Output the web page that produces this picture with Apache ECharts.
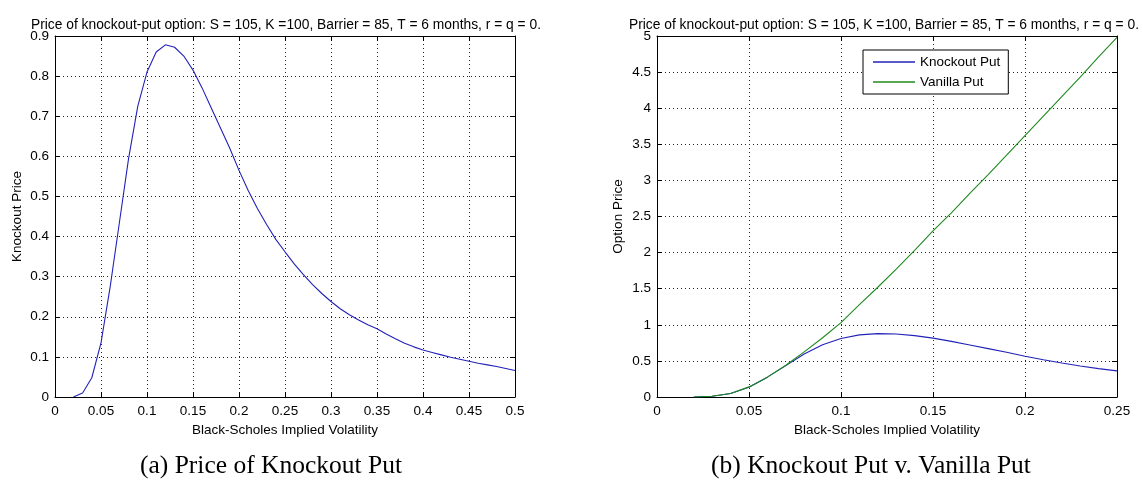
<!DOCTYPE html>
<html>
<head>
<meta charset="utf-8">
<title>Knockout put</title>
<script src="https://cdn.jsdelivr.net/npm/echarts@6/dist/echarts.min.js"></script>
<style>
  html, body { margin: 0; padding: 0; background: #fff; }
  #chart { width: 1143px; height: 481px; }
</style>
</head>
<body>
<div id="chart"></div>
<script>
// 隐含波动率 (左图 0.02 ~ 0.50)
var volLeft = [0.02,0.03,0.04,0.05,0.06,0.07,0.08,0.09,0.10,0.11,0.12,0.13,0.14,0.15,0.16,0.17,0.18,0.19,0.20,0.21,
    0.22,0.23,0.24,0.25,0.26,0.27,0.28,0.29,0.30,0.31,0.32,0.33,0.34,0.35,0.36,0.37,0.38,0.39,0.40,0.41,
    0.42,0.43,0.44,0.45,0.46,0.47,0.48,0.49,0.50];
// 敲出看跌期权价格
var knockoutPrice = [0.000,0.010,0.048,0.135,0.275,0.435,0.595,0.725,0.810,0.860,0.878,0.872,0.850,0.815,0.770,0.720,0.670,0.620,0.565,0.515,
    0.470,0.430,0.393,0.362,0.332,0.305,0.280,0.258,0.238,0.220,0.205,0.192,0.180,0.170,0.157,0.145,0.134,0.125,0.117,0.111,
    0.105,0.099,0.094,0.089,0.084,0.080,0.076,0.071,0.066];
// 右图 0.02 ~ 0.25
var volRight = [0.02,0.03,0.04,0.05,0.06,0.07,0.08,0.09,0.10,0.11,0.12,0.13,0.14,0.15,0.16,0.17,0.18,0.19,0.20,0.21,
    0.22,0.23,0.24,0.25];
var vanillaPrice = [0.000,0.010,0.048,0.140,0.275,0.440,0.625,0.820,1.030,1.280,1.520,1.770,2.030,2.300,2.550,2.820,3.080,3.350,3.620,3.890,
    4.160,4.430,4.710,4.980];

var xTicksLeft = { min: 0, max: 0.5, interval: 0.05 };
var yTicksLeft = { min: 0, max: 0.9, interval: 0.1 };
var xTicksRight = { min: 0, max: 0.25, interval: 0.05 };
var yTicksRight = { min: 0, max: 5, interval: 0.5 };

var titleText = 'Price of knockout-put option: S = 105, K =100, Barrier = 85, T = 6 months, r = q = 0.';

function pairs(xs, ys) {
    var out = [];
    for (var i = 0; i < xs.length; i++) {
        out.push([xs[i], ys[i]]);
    }
    return out;
}

var FONT = 'Liberation Sans, Arial, sans-serif';
var labelStyle = { color: '#000', fontSize: 13.5, fontFamily: FONT };

// 主坐标轴 (带标签和网格)
function mainAxis(grid, ticks, pos, name, nameGap, margin) {
    return {
        type: 'value', gridIndex: grid, position: pos,
        min: ticks.min, max: ticks.max, interval: ticks.interval,
        name: name, nameLocation: 'middle', nameGap: nameGap,
        nameTextStyle: labelStyle,
        axisLine: { show: true, lineStyle: { color: '#000', width: 1 } },
        axisTick: { show: true, inside: true, length: 5, lineStyle: { color: '#000' } },
        axisLabel: { show: true, margin: margin, color: '#000', fontSize: 13.5, fontFamily: FONT },
        splitLine: { show: true, lineStyle: { color: '#222', type: [1, 3], width: 1 } }
    };
}
// 对面的框线 (只画刻度)
function boxAxis(grid, ticks, pos) {
    return {
        type: 'value', gridIndex: grid, position: pos,
        min: ticks.min, max: ticks.max, interval: ticks.interval,
        axisLine: { show: true, onZero: false, lineStyle: { color: '#000', width: 1 } },
        axisTick: { show: true, inside: true, length: 5, lineStyle: { color: '#000' } },
        axisLabel: { show: false },
        splitLine: { show: false }
    };
}

var myChart = echarts.init(document.getElementById('chart'));

var option = {
    animation: false,
    backgroundColor: '#fff',
    title: [
        { text: titleText, left: 281, top: 13, textAlign: 'center',
          textStyle: { color: '#000', fontSize: 13.8, fontWeight: 'normal', fontFamily: FONT } },
        { text: titleText, left: 879, top: 13, textAlign: 'center',
          textStyle: { color: '#000', fontSize: 13.8, fontWeight: 'normal', fontFamily: FONT } }
    ],
    grid: [
        { left: 55, top: 36, width: 460, height: 361, containLabel: false },
        { left: 657, top: 36, width: 460, height: 361, containLabel: false }
    ],
    legend: {
        data: ['Knockout Put', 'Vanilla Put'],
        orient: 'vertical',
        left: 863, top: 50,
        padding: [5, 8, 5, 10],
        itemGap: 6,
        itemWidth: 42, itemHeight: 1.5,
        icon: 'rect',
        borderColor: '#000', borderWidth: 1, borderRadius: 0,
        backgroundColor: '#fff',
        textStyle: { color: '#000', fontSize: 13.5, fontFamily: FONT, lineHeight: 14 }
    },
    xAxis: [
        mainAxis(0, xTicksLeft, 'bottom', 'Black-Scholes Implied Volatility', 21, 7),
        boxAxis(0, xTicksLeft, 'top'),
        mainAxis(1, xTicksRight, 'bottom', 'Black-Scholes Implied Volatility', 21, 7),
        boxAxis(1, xTicksRight, 'top')
    ],
    yAxis: [
        mainAxis(0, yTicksLeft, 'left', 'Knockout Price', 31, 6),
        boxAxis(0, yTicksLeft, 'right'),
        mainAxis(1, yTicksRight, 'left', 'Option Price', 32, 6),
        boxAxis(1, yTicksRight, 'right')
    ],
    series: [
        {
            name: 'Knockout Price', type: 'line', xAxisIndex: 0, yAxisIndex: 0,
            data: pairs(volLeft, knockoutPrice),
            showSymbol: false, symbol: 'none',
            color: '#2222b8',
            lineStyle: { width: 1.1, color: '#2222b8' }
        },
        {
            name: 'Knockout Put', type: 'line', xAxisIndex: 2, yAxisIndex: 2,
            data: pairs(volRight, knockoutPrice.slice(0, volRight.length)),
            showSymbol: false, symbol: 'none',
            color: '#2222b8',
            lineStyle: { width: 1.1, color: '#2222b8' }
        },
        {
            name: 'Vanilla Put', type: 'line', xAxisIndex: 2, yAxisIndex: 2,
            data: pairs(volRight, vanillaPrice),
            showSymbol: false, symbol: 'none',
            color: '#1f8a1f',
            lineStyle: { width: 1.1, color: '#1f8a1f' }
        }
    ],
    // 子图说明
    graphic: [
        { type: 'text', x: 271, y: 466,
          style: { text: '(a) Price of Knockout Put', textAlign: 'center', textVerticalAlign: 'middle',
                   font: '25.5px "Liberation Serif", "Times New Roman", serif', fill: '#000' } },
        { type: 'text', x: 871, y: 466,
          style: { text: '(b) Knockout Put v. Vanilla Put', textAlign: 'center', textVerticalAlign: 'middle',
                   font: '25.5px "Liberation Serif", "Times New Roman", serif', fill: '#000' } }
    ]
};

myChart.setOption(option);
</script>
</body>
</html>
